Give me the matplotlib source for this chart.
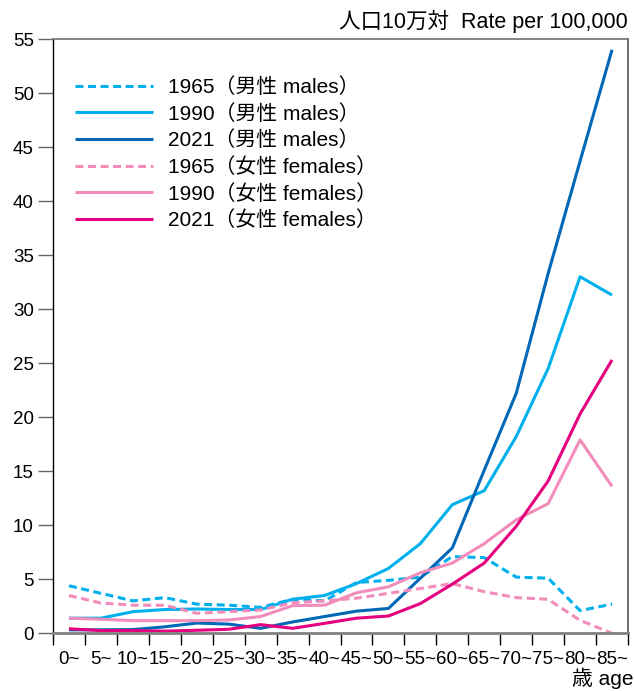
import matplotlib
matplotlib.use('Agg')
import matplotlib.pyplot as plt
import numpy as np

# latin text in Liberation Sans, japanese falls back to Noto CJK
plt.rcParams['font.family'] = ['Liberation Sans', 'Noto Sans CJK JP']

#%% data (rate per 100,000 by age group)
ages = ['0~', '5~', '10~', '15~', '20~', '25~', '30~', '35~', '40~',
        '45~', '50~', '55~', '60~', '65~', '70~', '75~', '80~', '85~']

male_1965 = [4.4, 3.7, 3.0, 3.3, 2.7, 2.6, 2.4, 3.15, 3.0,
             4.7, 4.9, 5.2, 7.1, 7.0, 5.2, 5.1, 2.1, 2.7]
male_1990 = [1.4, 1.4, 2.0, 2.2, 2.25, 2.2, 2.2, 3.15, 3.5,
             4.6, 6.0, 8.3, 11.9, 13.2, 18.2, 24.5, 33.0, 31.3]
male_2021 = [0.32, 0.32, 0.35, 0.6, 0.95, 0.85, 0.46, 1.05, 1.55,
             2.05, 2.3, 5.1, 7.9, 15.1, 22.2, 33.3, 43.7, 54.0]

female_1965 = [3.5, 2.8, 2.6, 2.6, 1.85, 2.0, 2.15, 2.83, 3.0,
               3.25, 3.7, 4.15, 4.6, 3.85, 3.3, 3.15, 1.2, 0.0]
female_1990 = [1.4, 1.3, 1.17, 1.17, 1.17, 1.23, 1.55, 2.56, 2.6,
               3.75, 4.3, 5.6, 6.5, 8.3, 10.5, 12.0, 17.9, 13.6]
female_2021 = [0.42, 0.25, 0.25, 0.2, 0.28, 0.37, 0.8, 0.46, 0.92,
               1.4, 1.6, 2.75, 4.55, 6.5, 9.9, 14.1, 20.3, 25.3]

series = [
    (male_1965, '1965（男性 males）'),
    (male_1990, '1990（男性 males）'),
    (male_2021, '2021（男性 males）'),
    (female_1965, '1965（女性 females）'),
    (female_1990, '1990（女性 females）'),
    (female_2021, '2021（女性 females）'),
]

#%% styles
cyan = '#00b0ec'
navy = '#0068b7'
pink = '#f18cbb'
magenta = '#e4007f'
dash = (0, (2.6, 1.5))
styles = [(cyan, dash), (cyan, '-'), (navy, '-'),
          (pink, dash), (pink, '-'), (magenta, '-')]

#%% plot
fig = plt.figure(figsize=(6.34, 6.91), dpi=100)
ax = fig.add_axes([53 / 634, 57.7 / 691, 575 / 634, 594.3 / 691])

x = np.arange(len(ages)) + 0.5
for (vals, label), (col, ls) in zip(series, styles):
    ax.plot(x, vals, color=col, linestyle=ls, lw=2.2, label=label,
            solid_capstyle='butt', dash_capstyle='butt')

ax.set_xlim(0, len(ages))
ax.set_ylim(0, 55)
ax.set_yticks(range(0, 56, 5))

# boundary ticks (no labels) + labels centred on each age group
ax.set_xticks(np.arange(len(ages) + 1))
ax.set_xticks(x, minor=True)
ax.set_xticklabels(ages, minor=True)
ax.tick_params(axis='x', which='major', length=8.6, width=1, color='black',
               direction='out', labelbottom=False)
ax.tick_params(axis='x', which='minor', length=0, pad=12.5, labelsize=13.5)
ax.tick_params(axis='y', length=10.8, width=1, color='#666666', pad=3,
               labelsize=13.5)

ax.spines['left'].set_color('black')
ax.spines['left'].set_linewidth(1)
ax.spines['top'].set_color('#707070')
ax.spines['top'].set_linewidth(1.2)
ax.spines['right'].set_color('#555555')
ax.spines['right'].set_linewidth(1.2)
ax.spines['bottom'].set_color('#808080')
ax.spines['bottom'].set_linewidth(2)

ax.legend(loc='upper left', bbox_to_anchor=(0.038, 0.936), frameon=False,
          fontsize=15, handlelength=3.75, handletextpad=0.72,
          labelspacing=0.33, borderpad=0, borderaxespad=0)

fig.text(628 / 634, 1 - 21 / 691, '人口10万対  Rate per 100,000',
         ha='right', va='center', fontsize=15.5)
fig.text(1.0, 6 / 691, '歳 age', ha='right', va='baseline', fontsize=15)

fig.savefig('out.png', dpi=100)
